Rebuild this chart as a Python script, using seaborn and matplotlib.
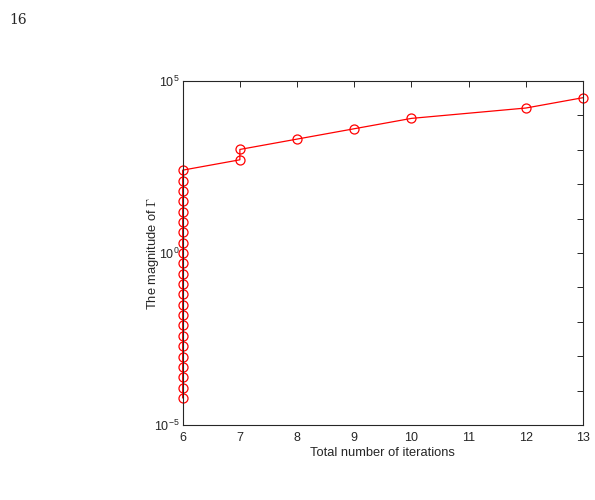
import numpy as np
import pandas as pd
import matplotlib
matplotlib.use('Agg')
import matplotlib.pyplot as plt
import seaborn as sns

# data (path order matters)
iterations = [6] * 23 + [7, 7, 8, 9, 10, 12, 13]
gamma = [6.1e-5, 1.22e-4, 2.44e-4, 4.88e-4, 9.77e-4, 1.95e-3, 3.91e-3, 7.81e-3,
         1.56e-2, 3.13e-2, 6.25e-2, 0.125, 0.25, 0.5, 1, 2, 4, 8, 16, 32, 64, 128, 256,
         512, 1024, 2048, 4096, 8192, 16384, 32768]
order = list(range(len(gamma)))

y_ticks = [1e-5, 1e-4, 1e-3, 1e-2, 1e-1, 1e0, 1e1, 1e2, 1e3, 1e4, 1e5]
y_tick_labels = [r'$\mathregular{10^{-5}}$', '', '', '', '', r'$\mathregular{10^{0}}$',
                 '', '', '', '', r'$\mathregular{10^{5}}$']
x_ticks = [6, 7, 8, 9, 10, 11, 12, 13]

df = pd.DataFrame({'it': iterations, 'gamma': gamma, 'order': order})

sns.set_style("white")
plt.rcParams['font.family'] = ['Liberation Sans', 'DejaVu Sans']
plt.rcParams['mathtext.fontset'] = 'cm'

fig = plt.figure(figsize=(5.95, 5.0), dpi=100)
ax = fig.add_axes([0.307, 0.15, 0.673, 0.688])

sns.lineplot(data=df, x='it', y='gamma', sort=False, estimator=None, ax=ax,
             color='red', linewidth=0.9, marker='o', markersize=6.5,
             markerfacecolor='none', markeredgecolor='red', markeredgewidth=0.9,
             clip_on=False)

ax.set_yscale('log')
ax.set_xlim(6, 13)
ax.set_ylim(1e-5, 1e5)
ax.set_xticks(x_ticks)
ax.set_yticks(y_ticks)
ax.set_yticklabels(y_tick_labels)
ax.yaxis.set_minor_locator(matplotlib.ticker.NullLocator())
ax.tick_params(direction='in', top=True, right=True, length=4, width=0.7,
               labelsize=9, colors='#262626')
ax.tick_params(axis='x', pad=5)
ax.tick_params(axis='y', pad=2)
for s in ax.spines.values():
    s.set_color('#262626')
    s.set_linewidth(0.8)

ax.set_xlabel('Total number of iterations', fontsize=9.3, color='#262626', labelpad=2)
ax.set_ylabel(r'The magnitude of $\Gamma$', fontsize=9.3, color='#262626', labelpad=-5)

fig.text(0.015, 0.975, '16', family='DejaVu Serif', fontsize=10, va='top', ha='left')

fig.savefig('out.png', dpi=100)
